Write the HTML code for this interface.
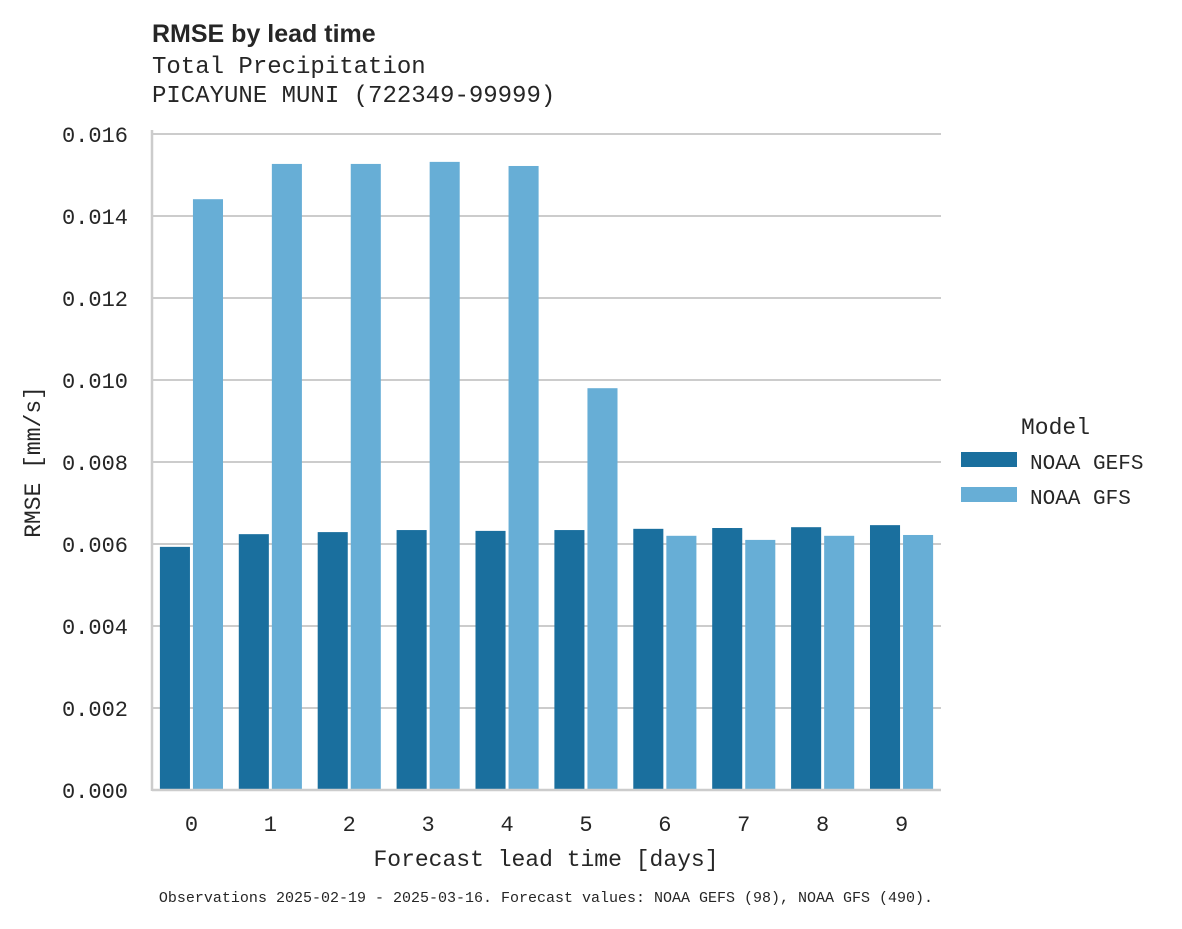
<!DOCTYPE html>
<html><head><meta charset="utf-8"><style>
body{margin:0;background:#fff;}
svg text{font-family:"Liberation Mono",monospace;fill:#262626;}
</style></head><body>
<svg width="1182" height="924">
<text x="152" y="42" style="font-family:'Liberation Sans',sans-serif;font-weight:bold;font-size:25px">RMSE by lead time</text>
<text x="152" y="73" font-size="24">Total Precipitation</text>
<text x="152" y="102" font-size="24">PICAYUNE MUNI (722349-99999)</text>
<g id="grid"></g><g id="bars"></g><g id="axes"></g>
<text x="0" y="0" font-size="23" text-anchor="middle" transform="translate(40,462) rotate(-90)">RMSE [mm/s]</text>
<text x="546" y="866" font-size="23" text-anchor="middle">Forecast lead time [days]</text>
<text x="546" y="902" font-size="15" text-anchor="middle">Observations 2025-02-19 - 2025-03-16. Forecast values: NOAA GEFS (98), NOAA GFS (490).</text>
<g>
<text x="1021" y="434" font-size="23">Model</text>
<rect x="961" y="452" width="56" height="15" fill="#1a6f9e"/>
<text x="1030" y="469" font-size="21">NOAA GEFS</text>
<rect x="961" y="487" width="56" height="15" fill="#67aed6"/>
<text x="1030" y="504" font-size="21">NOAA GFS</text>
</g>
</svg>
<script>
const categories=["0","1","2","3","4","5","6","7","8","9"];
const gefs=[0.00593,0.00624,0.00629,0.00634,0.00632,0.00634,0.00637,0.00639,0.00641,0.00646];
const gfs=[0.01441,0.01527,0.01527,0.01532,0.01522,0.00980,0.00620,0.00610,0.00620,0.00622];
const yTicks=[0,0.002,0.004,0.006,0.008,0.010,0.012,0.014,0.016];
const NS="http://www.w3.org/2000/svg";
const x0=152,x1=941,yTop=134,yBot=790,yMax=0.016;
const y=v=>yBot-(v/yMax)*(yBot-yTop);
const band=(x1-x0)/categories.length;
const grid=document.getElementById('grid'),bars=document.getElementById('bars'),axes=document.getElementById('axes');
function mk(tag,attrs,parent){const e=document.createElementNS(NS,tag);for(const k in attrs)e.setAttribute(k,attrs[k]);parent.appendChild(e);return e;}
yTicks.forEach(t=>{
  const g=mk('line',{x1:x0,x2:x1,y1:y(t),y2:y(t),stroke:'#cccccc','stroke-width':2},grid);
  
  
  const l=mk('text',{x:128,y:y(t)+8,'font-size':22,'text-anchor':'end'},axes);
  l.textContent=t.toFixed(3);
  
  
});
const bw=band*0.4;
categories.forEach((c,i)=>{
  const cx=x0+band*(i+0.5);
  const b1=mk('rect',{x:cx-bw,y:y(gefs[i]),width:bw-1.5,height:yBot-y(gefs[i]),fill:'#1a6f9e'},bars);
  
  
  const b2=mk('rect',{x:cx+1.5,y:y(gfs[i]),width:bw-1.5,height:yBot-y(gfs[i]),fill:'#67aed6'},bars);
  
  
  const l=mk('text',{x:cx,y:831,'font-size':22,'text-anchor':'middle'},axes);
  l.textContent=c;
  
  
});
const sl=mk('line',{x1:x0,x2:x0,y1:130,y2:yBot+1,stroke:'#cccccc','stroke-width':2.5},axes);


const sb=mk('line',{x1:x0,x2:x1,y1:yBot,y2:yBot,stroke:'#cccccc','stroke-width':2.5},axes);


</script>
</body></html>
